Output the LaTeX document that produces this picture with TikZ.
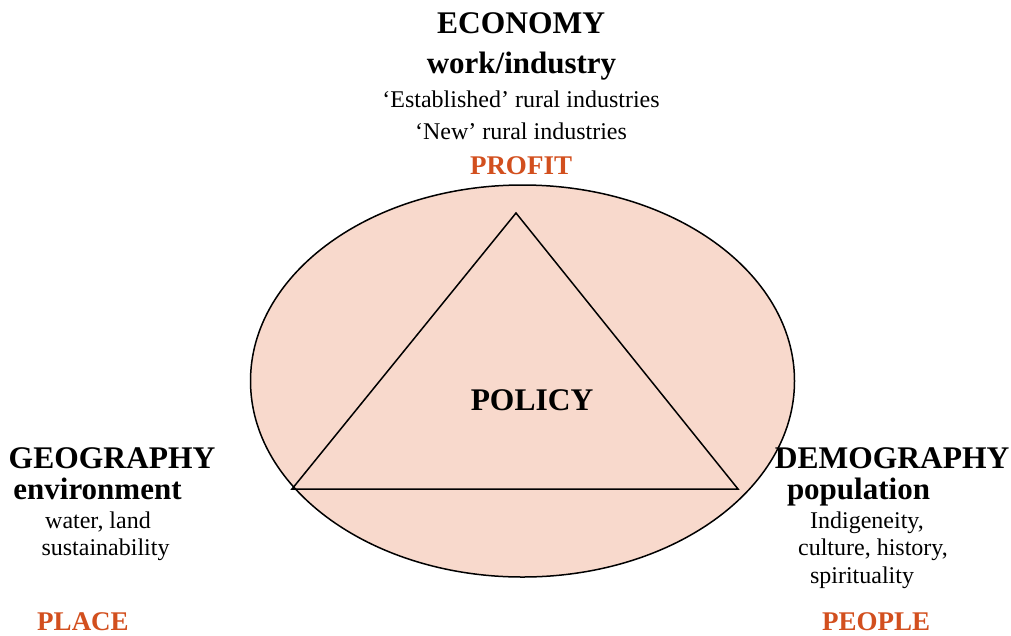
\documentclass[tikz,border=0pt]{standalone}
\usepackage{fontspec}
\setmainfont{Liberation Serif}
\usetikzlibrary{shapes.geometric}
\definecolor{blush}{HTML}{F8D9CC}
\definecolor{rust}{HTML}{D24F1E}
\begin{document}
\begin{tikzpicture}[x=1pt,y=-1pt,
  head/.style={font=\fontsize{31.5}{31.5}\selectfont\bfseries, anchor=base, inner sep=0pt},
  sub/.style={font=\fontsize{31}{31}\selectfont\bfseries, anchor=base, inner sep=0pt},
  body/.style={font=\fontsize{24}{24}\selectfont, anchor=base, inner sep=0pt},
  tag/.style={font=\fontsize{27}{27}\selectfont\bfseries, text=rust, anchor=base, inner sep=0pt},
  outline/.style={draw=black, line width=1.5pt}]
\useasboundingbox (0,0) rectangle (1011,635);
% ellipse and triangle
\node (oval) [outline, fill=blush, ellipse, minimum width=544pt, minimum height=392pt, inner sep=0pt] at (522.5,381) {};
\coordinate (apex) at (516,213);
\coordinate (lv) at (292,489);
\coordinate (rv) at (738,489);
\draw[outline, line join=miter] (apex) -- (lv) -- (rv) -- cycle;
% centre
\node (policy) [head] at (532,410) {POLICY};
% top
\node (econ) [head] at (521,33) {ECONOMY};
\node (work) [sub] at (521.5,73) {work/industry};
\node (est) [body] at (521,107) {‘Established’ rural industries};
\node (new) [body] at (521,139) {‘New’ rural industries};
\node (profit) [tag] at (521,174) {PROFIT};
% left
\node (geo) [head] at (112,468) {GEOGRAPHY};
\node (env) [sub] at (97.5,499) {environment};
\node (water) [body] at (98,528) {water, land};
\node (sust) [body] at (105.5,555) {sustainability};
\node (place) [tag] at (83,630) {PLACE};
% right
\node (demo) [head] at (892,468) {DEMOGRAPHY};
\node (pop) [sub] at (858.5,499) {population};
\node (indig) [body] at (867,528) {Indigeneity,};
\node (cult) [body] at (873,555) {culture, history,};
\node (spir) [body] at (862,583) {spirituality};
\node (people) [tag] at (876,630) {PEOPLE};
\end{tikzpicture}
\end{document}
